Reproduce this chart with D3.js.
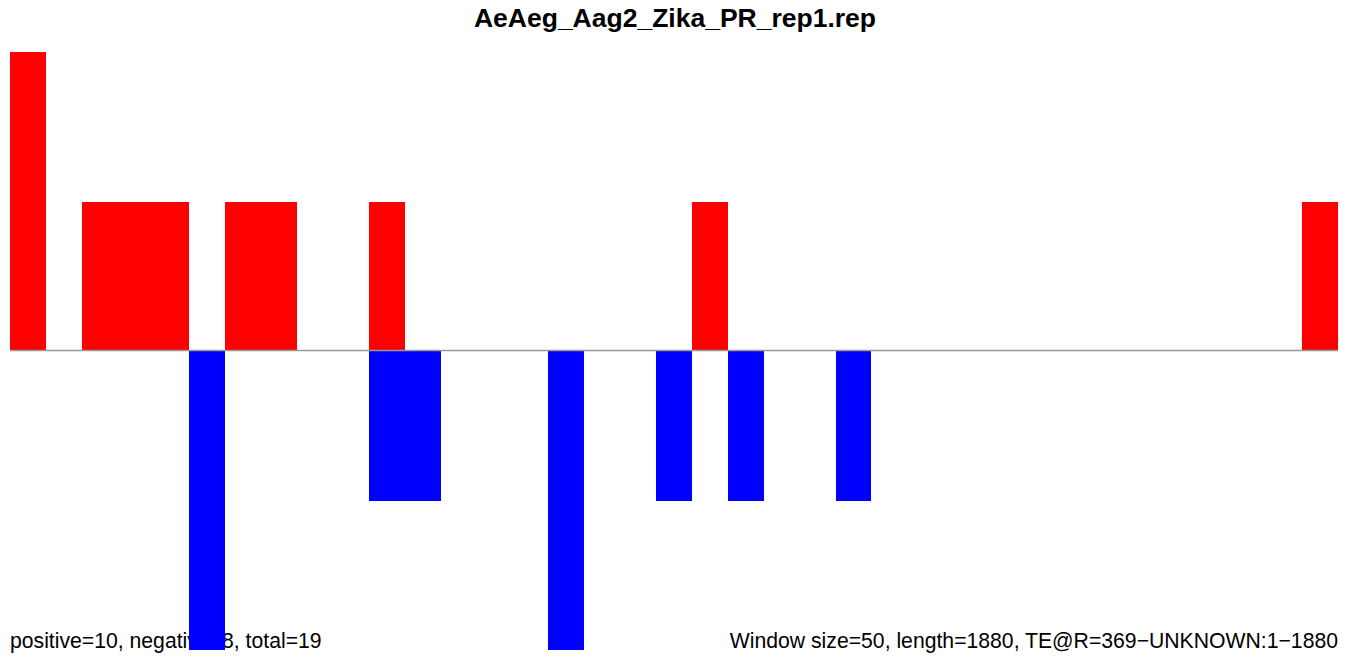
<!DOCTYPE html>
<html>
<head>
<meta charset="utf-8">
<script src="https://cdn.jsdelivr.net/npm/d3@7"></script>
<style>
  body { margin: 0; background: #fff; }
  svg { display: block; }
</style>
</head>
<body>
<svg id="drawing_region"></svg>
<script>
// one value per 50nt window, 1880nt -> 37 windows
const windows = d3.range(37);
const positive = [2,0,1,1,1,0,1,1,0,0,1,0,0,0,0,0,0,0,0,1,0,0,0,0,0,0,0,0,0,0,0,0,0,0,0,0,1];
const negative = [0,0,0,0,0,-2,0,0,0,0,-1,-1,0,0,0,-2,0,0,-1,0,-1,0,0,-1,0,0,0,0,0,0,0,0,0,0,0,0,0];
const yDomain = [-2, 2];

const title = "AeAeg_Aag2_Zika_PR_rep1.rep";
const leftNote = "positive=10, negative=8, total=19";
const rightNote = "Window size=50, length=1880, TE@R=369\u2212UNKNOWN:1\u22121880";

const config = {
  width: 1350,
  height: 661,
  margin: {top: 52, right: 12, bottom: 11, left: 10}
};

const svg = d3.select('#drawing_region')
  .attr('width', config.width)
  .attr('height', config.height);

const x0 = config.margin.left;
const x1 = config.width - config.margin.right;
const xscale = d3.scaleLinear()
  .domain([0, windows.length])
  .range([x0, x1]);
const yscale = d3.scaleLinear()
  .domain(yDomain)
  .range([config.height - config.margin.bottom, config.margin.top]);

const font = '"Liberation Sans", Arial, sans-serif';

// title
svg.append('text')
  .attr('x', config.width / 2)
  .attr('y', 27)
  .attr('text-anchor', 'middle')
  .style('font-family', font)
  .style('font-weight', 'bold')
  .style('font-size', '26.5px')
  .text(title);

// footer notes (drawn before bars, bars cover them)
svg.append('text')
  .attr('x', x0)
  .attr('y', 648)
  .style('font-family', font)
  .style('font-size', '21.2px')
  .text(leftNote);

svg.append('text')
  .attr('x', x1)
  .attr('y', 648)
  .attr('text-anchor', 'end')
  .style('font-family', font)
  .style('font-size', '21.2px')
  .text(rightNote);

const bw = xscale(1) - xscale(0);

svg.append('g').selectAll('rect')
  .data(windows.filter(i => positive[i] > 0))
  .join('rect')
  .attr('x', i => xscale(i))
  .attr('width', bw)
  .attr('y', i => yscale(positive[i]))
  .attr('height', i => yscale(0) - yscale(positive[i]))
  .attr('fill', '#ff0000')
  .attr('shape-rendering', 'crispEdges');

svg.append('g').selectAll('rect')
  .data(windows.filter(i => negative[i] < 0))
  .join('rect')
  .attr('x', i => xscale(i))
  .attr('width', bw)
  .attr('y', yscale(0))
  .attr('height', i => yscale(negative[i]) - yscale(0))
  .attr('fill', '#0000ff')
  .attr('shape-rendering', 'crispEdges');

// zero line
svg.append('line')
  .attr('x1', x0)
  .attr('x2', x1)
  .attr('y1', yscale(0) - 0.5)
  .attr('y2', yscale(0) - 0.5)
  .attr('stroke', '#999')
  .attr('stroke-width', 1.3);
</script>
</body>
</html>
